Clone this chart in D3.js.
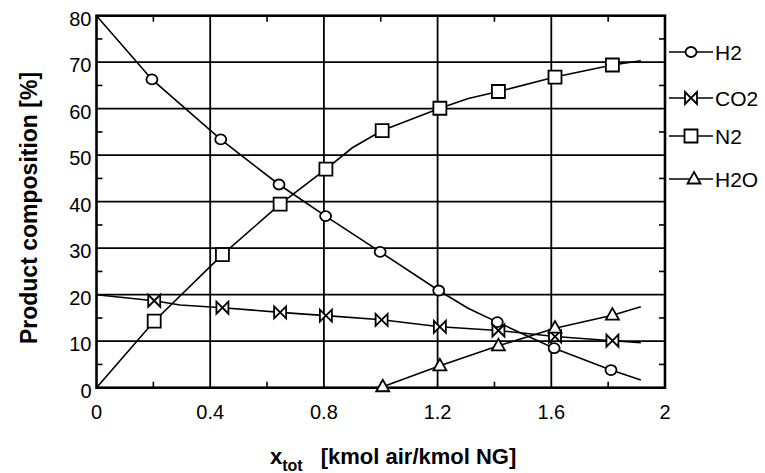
<!DOCTYPE html>
<html>
<head>
<meta charset="utf-8">
<script src="https://cdn.jsdelivr.net/npm/d3@7"></script>
<style>
  body { margin: 0; background: #fff; }
  svg { font-family: "Liberation Sans", Arial, sans-serif; }
</style>
</head>
<body>
<div id="chart-container"></div>
<script>
// curve points [x, y] and marker points for each product
let h2Curve = [[0, 80], [0.195, 66.3], [0.437, 53.4], [0.642, 43.7], [0.806, 36.9], [0.998, 29.2], [1.204, 20.9], [1.307, 17.1], [1.41, 14.1], [1.61, 8.5], [1.81, 3.8], [1.915, 1.65]];
let h2Marks = [[0.195, 66.3], [0.437, 53.4], [0.642, 43.7], [0.806, 36.9], [0.998, 29.2], [1.204, 20.9], [1.41, 14.1], [1.61, 8.5], [1.81, 3.8]];

let co2Curve = [[0, 20], [0.203, 18.7], [0.294, 17.8], [0.443, 17.2], [0.646, 16.2], [0.807, 15.5], [1.003, 14.6], [1.208, 13.1], [1.414, 12.3], [1.613, 11.0], [1.815, 10.1], [1.915, 9.7]];
let co2Marks = [[0.203, 18.7], [0.443, 17.2], [0.646, 16.2], [0.807, 15.5], [1.003, 14.6], [1.208, 13.1], [1.414, 12.3], [1.613, 11.0], [1.815, 10.1]];

let n2Curve = [[0, 0], [0.203, 14.3], [0.443, 28.6], [0.646, 39.5], [0.807, 47.0], [0.9, 51.6], [1.005, 55.3], [1.208, 60.1], [1.308, 62.2], [1.414, 63.7], [1.613, 66.8], [1.815, 69.4], [1.915, 70.3]];
let n2Marks = [[0.203, 14.3], [0.443, 28.6], [0.646, 39.5], [0.807, 47.0], [1.005, 55.3], [1.208, 60.1], [1.414, 63.7], [1.613, 66.8], [1.815, 69.4]];

let h2oCurve = [[1.007, 0.2], [1.208, 4.7], [1.414, 9.0], [1.613, 12.8], [1.815, 15.6], [1.915, 17.4]];
let h2oMarks = [[1.007, 0.2], [1.208, 4.7], [1.414, 9.0], [1.613, 12.8], [1.815, 15.6]];

let seriesNames = ["H2", "CO2", "N2", "H2O"];
let xTicks = [0, 0.4, 0.8, 1.2, 1.6, 2];
let xMinorTicks = [0.2, 0.6, 1.0, 1.4, 1.8];
let yTicks = [0, 10, 20, 30, 40, 50, 60, 70, 80];
let yMinorTicks = [5, 15, 25, 35, 45, 55, 65, 75];

document.addEventListener('DOMContentLoaded', function(){
  drawChart();
});

function markerPath(kind){
  if (kind == "circle") return "M-5.5,0A5.5,5,0,1,0,5.5,0A5.5,5,0,1,0,-5.5,0Z";
  if (kind == "bowtie") return "M-6,-6L6,6L6,-6L-6,6Z";
  if (kind == "square") return "M-6.5,-6.5H6.5V6.5H-6.5Z";
  return "M0,-7L6.5,4.5L-6.5,4.5Z";
}

function drawChart(){
  let svgWidth = 765;
  let svgHeight = 473;
  let left = 96.5, right = 665, top = 15.7, bottom = 387.7;

  let svg = d3.select('#chart-container')
    .append('svg')
    .attr('width', svgWidth)
    .attr('height', svgHeight);

  let xScale = d3.scaleLinear().domain([0, 2]).range([left, right]);
  let yScale = d3.scaleLinear().domain([0, 80]).range([bottom, top]);

  //grid lines
  svg.append("g")
    .selectAll("line")
    .data(xTicks.slice(1, -1))
    .enter().append("line")
      .attr("x1", d => xScale(d)).attr("x2", d => xScale(d))
      .attr("y1", top).attr("y2", bottom)
      .attr("stroke", "#000").attr("stroke-width", 1.8);
  svg.append("g")
    .selectAll("line")
    .data(yTicks.slice(1, -1))
    .enter().append("line")
      .attr("y1", d => yScale(d)).attr("y2", d => yScale(d))
      .attr("x1", left).attr("x2", right)
      .attr("stroke", "#000").attr("stroke-width", 1.8);

  //inner minor ticks on all four sides
  let tickLen = 6;
  let minor = svg.append("g").attr("stroke", "#000").attr("stroke-width", 1.6);
  minor.selectAll(".tb").data(xMinorTicks).enter().append("line")
    .attr("x1", d => xScale(d)).attr("x2", d => xScale(d))
    .attr("y1", bottom).attr("y2", bottom - tickLen);
  minor.selectAll(".tt").data(xMinorTicks).enter().append("line")
    .attr("x1", d => xScale(d)).attr("x2", d => xScale(d))
    .attr("y1", top).attr("y2", top + tickLen);
  minor.selectAll(".tl").data(yMinorTicks).enter().append("line")
    .attr("y1", d => yScale(d)).attr("y2", d => yScale(d))
    .attr("x1", left).attr("x2", left + tickLen);
  minor.selectAll(".tr").data(yMinorTicks).enter().append("line")
    .attr("y1", d => yScale(d)).attr("y2", d => yScale(d))
    .attr("x1", right).attr("x2", right - tickLen);

  //frame
  svg.append("rect")
    .attr("x", left).attr("y", top)
    .attr("width", right - left).attr("height", bottom - top)
    .attr("fill", "none").attr("stroke", "#000").attr("stroke-width", 2.6);

  //tick labels
  svg.append("g")
    .selectAll("text")
    .data(xTicks)
    .enter().append("text")
      .attr("x", d => xScale(d))
      .attr("y", 419)
      .attr("text-anchor", "middle")
      .style("font-size", "20px")
      .text(d => d);
  svg.append("g")
    .selectAll("text")
    .data(yTicks)
    .enter().append("text")
      .attr("x", left - 5)
      .attr("y", d => yScale(d) + 10)
      .attr("text-anchor", "end")
      .style("font-size", "20px")
      .text(d => d);

  //axis titles
  let xTitle = svg.append("text")
    .attr("x", 270)
    .attr("y", 464)
    .style("font-size", "22px")
    .style("font-weight", "bold");
  xTitle.append("tspan").text("x");
  xTitle.append("tspan").attr("dy", 7).style("font-size", "16px").text("tot");
  xTitle.append("tspan").attr("dy", -7).attr("dx", 18).text("[kmol air/kmol NG]");

  svg.append("text")
    .attr("transform", "translate(37, 208) rotate(-90)")
    .attr("text-anchor", "middle")
    .style("font-size", "23px")
    .style("font-weight", "bold")
    .text("Product composition [%]");

  //curves and markers
  let line = d3.line()
    .x(d => xScale(d[0]))
    .y(d => yScale(d[1]));

  let series = [
    {curve: h2Curve, marks: h2Marks, kind: "circle"},
    {curve: co2Curve, marks: co2Marks, kind: "bowtie"},
    {curve: n2Curve, marks: n2Marks, kind: "square"},
    {curve: h2oCurve, marks: h2oMarks, kind: "triangle"}
  ];

  series.forEach(s => {
    svg.append("path")
      .attr("d", line(s.curve))
      .attr("fill", "none")
      .attr("stroke", "#000")
      .attr("stroke-width", 1.6);
    svg.append("g")
      .selectAll("path")
      .data(s.marks)
      .enter().append("path")
        .attr("d", markerPath(s.kind))
        .attr("transform", d => "translate(" + xScale(d[0]) + "," + yScale(d[1]) + ")")
        .attr("fill", "#fff")
        .attr("stroke", "#000")
        .attr("stroke-width", 1.8);
  });

  //legend
  let legendY = [52, 98, 136, 179];
  let legend = svg.append("g");
  seriesNames.forEach((name, i) => {
    let g = legend.append("g").attr("transform", "translate(0," + legendY[i] + ")");
    g.append("line")
      .attr("x1", 669).attr("x2", 713)
      .attr("stroke", "#000").attr("stroke-width", 1.6);
    g.append("path")
      .attr("d", markerPath(series[i].kind))
      .attr("transform", "translate(" + (i == 3 ? 694 : 691) + ",0)")
      .attr("fill", "#fff")
      .attr("stroke", "#000")
      .attr("stroke-width", 1.8);
    g.append("text")
      .attr("x", 715)
      .attr("y", 7.5)
      .style("font-size", "21px")
      .text(name);
  });
}
</script>
</body>
</html>
